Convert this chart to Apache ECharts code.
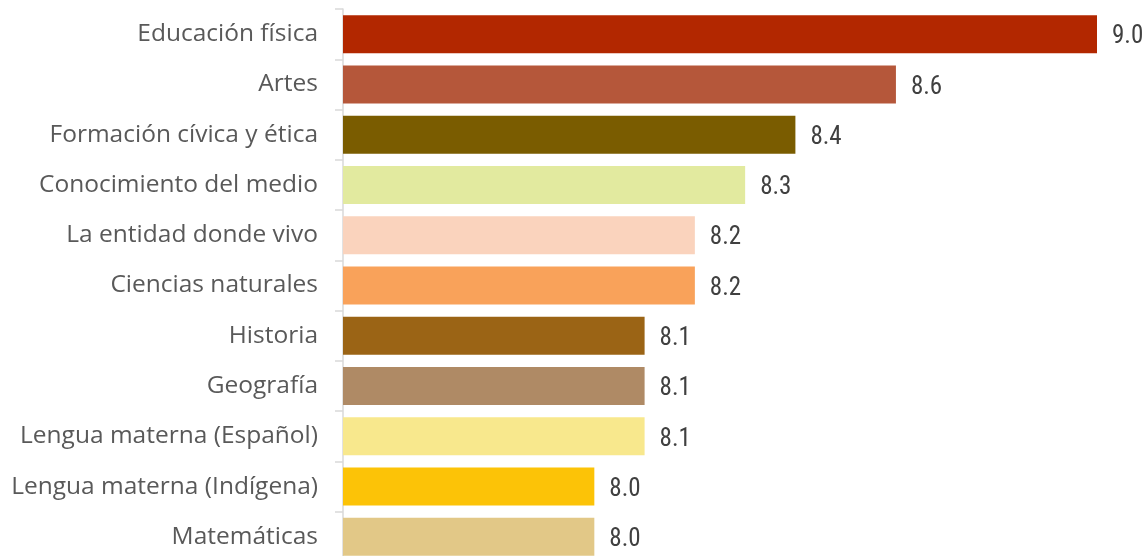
<!DOCTYPE html>
<html>
<head>
<meta charset="utf-8">
<script src="https://cdn.jsdelivr.net/npm/echarts@6/dist/echarts.min.js"></script>
<style>
html,body{margin:0;padding:0;background:#fff;}
#chart{width:1146px;height:556px;}
</style>
</head>
<body>
<div id="chart"></div>
<script>
const categories = [
  "Educación física",
  "Artes",
  "Formación cívica y ética",
  "Conocimiento del medio",
  "La entidad donde vivo",
  "Ciencias naturales",
  "Historia",
  "Geografía",
  "Lengua materna (Español)",
  "Lengua materna (Indígena)",
  "Matemáticas"
];
const values = [9.0, 8.6, 8.4, 8.3, 8.2, 8.2, 8.1, 8.1, 8.1, 8.0, 8.0];
const colors = [
  "#B22700", "#B5573A", "#7A5C00", "#E2EA9F", "#FAD3BD", "#F9A25A",
  "#9B6415", "#AF8A65", "#F8E88D", "#FCC307", "#E2C887"
];

const chart = echarts.init(document.getElementById('chart'), null, {renderer: 'canvas'});
chart.setOption({
  animation: false,
  backgroundColor: '#ffffff',
  grid: {left: 343, right: 49, top: 9, height: 553, containLabel: false, outerBoundsMode: 'none'},
  xAxis: {
    type: 'value', min: 7.5, max: 9.0, show: false
  },
  yAxis: {
    type: 'category',
    inverse: true,
    data: categories,
    axisLine: {show: true, lineStyle: {color: '#D9D9D9', width: 1.5}},
    axisTick: {show: true, length: 8, lineStyle: {color: '#D9D9D9', width: 1.5}},
    axisLabel: {
      margin: 25,
      color: '#595959',
      fontFamily: '"Open Sans", sans-serif',
      fontSize: 24.5
    },
    splitLine: {show: false}
  },
  series: [{
    type: 'bar',
    barWidth: 38,
    data: values.map((v, i) => ({value: v, itemStyle: {color: colors[i]}})),
    label: {
      show: true,
      position: 'right',
      distance: 15,
      offset: [0, 3],
      color: '#404040',
      fontFamily: '"Liberation Sans Narrow", "Roboto Condensed", "DejaVu Sans Condensed", sans-serif',
      fontSize: 25,
      formatter: p => p.value.toFixed(1)
    }
  }]
});
</script>
</body>
</html>
